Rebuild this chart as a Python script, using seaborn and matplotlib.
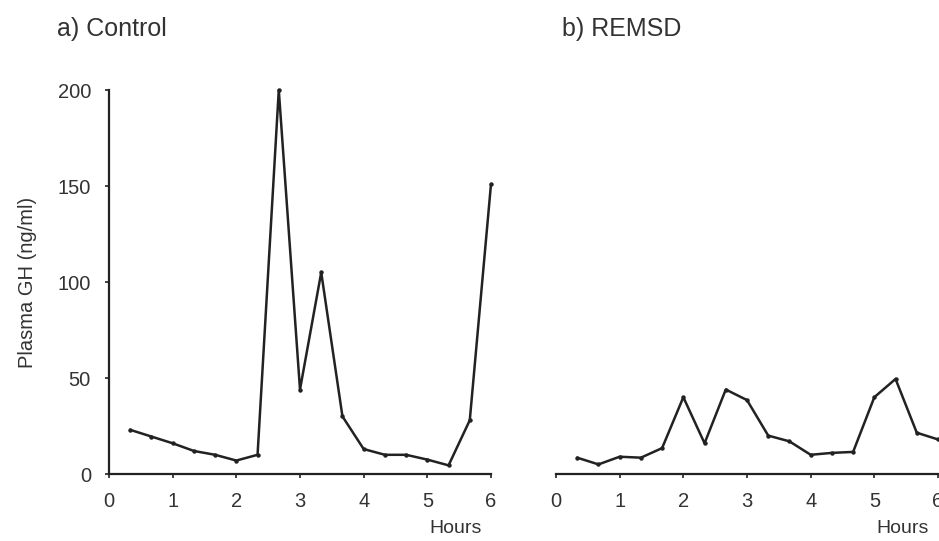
import matplotlib
matplotlib.use("Agg")
from matplotlib import pyplot as plt
import pandas as pd
import seaborn as sns
import numpy as np

# sampling times (hours), every 20 min
hours = [1/3, 2/3, 1, 4/3, 5/3, 2, 7/3, 8/3, 3, 10/3, 11/3, 4, 13/3, 14/3, 5, 16/3, 17/3, 6]

# plasma GH (ng/ml)
control_gh = [23, 19.5, 16, 12, 10, 7, 10, 200, 44, 105, 30, 13, 10, 10, 7.5, 4.5, 28, 151]
remsd_gh = [8.5, 5, 9, 8.5, 13.5, 40, 16, 44, 38.5, 20, 17, 10, 11, 11.5, 40, 49.5, 21.5, 18]

panel_titles = ["a) Control", "b) REMSD"]
x_ticks = [0, 1, 2, 3, 4, 5, 6]
y_ticks = [0, 50, 100, 150, 200]

sns.set_style("ticks")
plt.rcParams["font.family"] = ["Liberation Sans", "DejaVu Sans"]

ink = "#222222"
txt = "#333333"

fig = plt.figure(figsize=(9.39, 5.41), dpi=100)
ax_a = fig.add_axes([109 / 939, 67 / 541, 382 / 939, 384 / 541])
ax_b = fig.add_axes([556 / 939, 67 / 541, 382 / 939, 384 / 541])

for ax, vals in [(ax_a, control_gh), (ax_b, remsd_gh)]:
    df = pd.DataFrame({"Hours": hours, "GH": vals})
    sns.lineplot(
        data=df, x="Hours", y="GH", ax=ax, color=ink, linewidth=1.8,
        marker="o", markersize=3.2, markeredgewidth=0, clip_on=False,
    )
    ax.set_xlim(0, 6)
    ax.set_ylim(0, 200)
    ax.set_xticks(x_ticks)
    ax.set_xlabel("")
    ax.set_ylabel("")
    ax.tick_params(axis="both", colors=ink, labelcolor=txt, labelsize=14.5,
                   length=3, width=1.2, pad=10)
    for s in ax.spines.values():
        s.set_linewidth(1.6)
        s.set_color(ink)
    ax.text(5.86, -0.12, "Hours", transform=ax.get_xaxis_transform(),
            ha="right", va="top", fontsize=14, color=txt)

sns.despine(ax=ax_a)
sns.despine(ax=ax_b, left=True)
ax_a.set_yticks(y_ticks)
ax_a.set_ylabel("Plasma GH (ng/ml)", fontsize=14.5, color=txt, labelpad=15)
ax_b.set_yticks([])

fig.text(57 / 939, 1 - 29 / 541, panel_titles[0], fontsize=18, color=txt,
         ha="left", va="center")
fig.text(562 / 939, 1 - 29 / 541, panel_titles[1], fontsize=18, color=txt,
         ha="left", va="center")

fig.savefig("out.png", dpi=100)
